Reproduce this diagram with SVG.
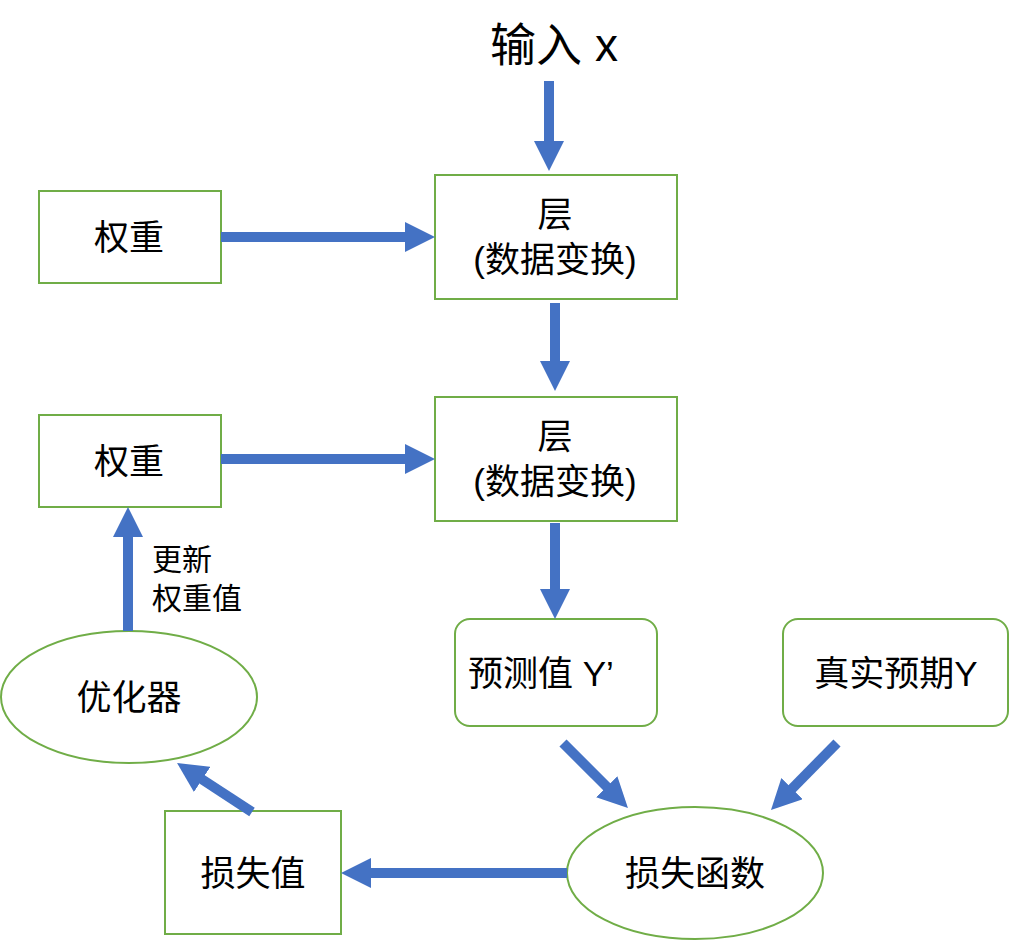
<svg xmlns="http://www.w3.org/2000/svg" width="1010" height="940" viewBox="0 0 1010 940">
<style>
.n{fill:#fff;stroke:#70AD47;stroke-width:2}
.t{font-family:"Liberation Sans","Noto Sans CJK SC",sans-serif;font-size:35px;fill:#000;text-anchor:middle}
.s{font-family:"Liberation Sans","Noto Sans CJK SC",sans-serif;font-size:30px;fill:#000}
.a{stroke:#4472C4;stroke-width:10;fill:none;marker-end:url(#h)}
</style>
<defs>
<marker id="h" viewBox="0 0 10 10" refX="0.5" refY="5" markerWidth="3" markerHeight="3" orient="auto" markerUnits="strokeWidth">
<path d="M0,0 L10,5 L0,10 Z" fill="#4472C4"/>
</marker>
</defs>
<rect width="1010" height="940" fill="#fff"/>
<g id="input"><text class="t" x="554" y="61" style="font-size:46px">输入 x</text></g>
<g id="w1"><rect class="n" x="39" y="191" width="182" height="92"/><text class="t" x="129" y="250">权重</text></g>
<g id="l1"><rect class="n" x="435" y="175" width="242" height="124"/><text class="t" x="555" y="227">层</text><text class="t" x="555" y="272">(数据变换)</text></g>
<g id="w2"><rect class="n" x="39" y="415" width="182" height="92"/><text class="t" x="129" y="474">权重</text></g>
<g id="l2"><rect class="n" x="435" y="397" width="242" height="124"/><text class="t" x="555" y="449">层</text><text class="t" x="555" y="494">(数据变换)</text></g>
<g id="pred"><rect class="n" x="455" y="619" width="202" height="107" rx="15"/><text class="t" x="468" y="686" style="text-anchor:start">预测值 Y’</text></g>
<g id="truth"><rect class="n" x="783" y="619" width="225" height="107" rx="15"/><text class="t" x="896" y="686">真实预期Y</text></g>
<g id="opt"><ellipse class="n" cx="129" cy="697" rx="128" ry="66"/><text class="t" x="129" y="710">优化器</text></g>
<g id="lossfn"><ellipse class="n" cx="695" cy="873" rx="128" ry="66"/><text class="t" x="695" y="886">损失函数</text></g>
<g id="lossval"><rect class="n" x="165" y="811" width="176" height="123"/><text class="t" x="253" y="886">损失值</text></g>
<g id="connectors">
<line class="a" x1="549" y1="81" x2="549" y2="142.5"/>
<line class="a" x1="221" y1="237" x2="406.5" y2="237"/>
<line class="a" x1="555" y1="303" x2="555" y2="362.5"/>
<line class="a" x1="221" y1="459" x2="406.5" y2="459"/>
<line class="a" x1="555" y1="523" x2="555" y2="590.5"/>
<line class="a" x1="128" y1="631" x2="128" y2="535.5"/>
<line class="a" x1="567" y1="873" x2="369.5" y2="873"/>
<line class="a" x1="563" y1="743" x2="607.8" y2="787.8"/>
<line class="a" x1="837" y1="743" x2="791" y2="789.7"/>
<line class="a" x1="252" y1="812" x2="200.9" y2="778.6"/>
<text class="s" x="152" y="570">更新</text>
<text class="s" x="152" y="609">权重值</text>
</g>
</svg>
